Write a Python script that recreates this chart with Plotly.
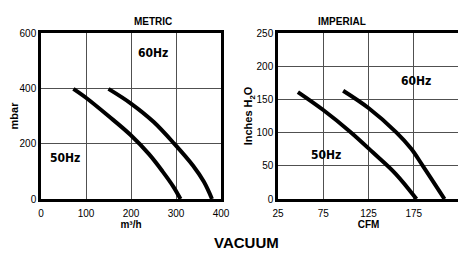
import plotly.graph_objects as go

# Metric data (m3/h vs mbar)
metric_50_x = [72, 100, 150, 198, 240, 270, 294, 310]
metric_50_y = [398, 366, 300, 233, 162, 100, 45, 0]
metric_60_x = [150, 200, 250, 296, 338, 362, 380]
metric_60_y = [398, 345, 279, 200, 120, 62, 0]

# Imperial data (CFM vs inches H2O)
imp_50_x = [47, 75, 105, 130, 155, 178]
imp_50_y = [161, 134, 101, 70, 38, 0]
imp_60_x = [97, 125, 156, 172, 185, 209]
imp_60_y = [163, 137, 100, 76, 50, 0]

metric_xticks = [0, 100, 200, 300, 400]
metric_yticks = [0, 200, 400, 600]
imp_xticks = [25, 75, 125, 175, 225]
imp_yticks = [0, 50, 100, 150, 200, 250]

LBL = "DejaVu Sans Condensed, Liberation Sans Narrow, Arial Narrow, sans-serif"
BASE = "Liberation Sans, Arial, sans-serif"

W, H = 458, 256  # page body adds an 8px margin
OX, OY = 8, 8

def px(x):
    return (x - OX) / W

def py(y):
    return 1 - (y - OY) / H

fig = go.Figure()
line = dict(color="black", width=4, shape="spline", smoothing=1.0)
fig.add_trace(go.Scatter(x=metric_50_x, y=metric_50_y, mode="lines", line=line, xaxis="x", yaxis="y"))
fig.add_trace(go.Scatter(x=metric_60_x, y=metric_60_y, mode="lines", line=line, xaxis="x", yaxis="y"))
fig.add_trace(go.Scatter(x=imp_50_x, y=imp_50_y, mode="lines", line=line, xaxis="x2", yaxis="y2"))
fig.add_trace(go.Scatter(x=imp_60_x, y=imp_60_y, mode="lines", line=line, xaxis="x2", yaxis="y2"))

ax_common = dict(showline=True, linecolor="black", linewidth=2.5, mirror=True,
                 showgrid=True, gridcolor="#505050", gridwidth=1.3, zeroline=False,
                 ticks="", tickfont=dict(family=BASE, size=10, color="black"),
                 fixedrange=True, automargin=False)

fig.update_layout(
    width=W, height=H,
    margin=dict(l=0, r=0, t=0, b=0),
    paper_bgcolor="white", plot_bgcolor="white",
    showlegend=False,
    xaxis=dict(domain=[px(41), px(221)], range=[0, 400], tickvals=metric_xticks,
               ticklabelstandoff=3,
               title=dict(text="<b>m³/h</b>", font=dict(family=BASE, size=10, color="black"), standoff=0),
               anchor="y", **ax_common),
    yaxis=dict(domain=[py(199), py(33)], range=[0, 600], tickvals=metric_yticks,
               title=dict(text="<b>mbar</b>", font=dict(family=BASE, size=11, color="black"), standoff=2),
               anchor="x", **ax_common),
    xaxis2=dict(domain=[px(278), px(459)], range=[25, 225], tickvals=imp_xticks,
                ticklabelstandoff=3,
                title=dict(text="<b>CFM</b>", font=dict(family=BASE, size=10, color="black"), standoff=0),
                anchor="y2", **ax_common),
    yaxis2=dict(domain=[py(199), py(33)], range=[0, 250], tickvals=imp_yticks,
                title=dict(text="<b>Inches H<sub>2</sub>O</b>", font=dict(family=BASE, size=11, color="black"), standoff=2),
                anchor="x2", **ax_common),
)

ann = []
ann.append(dict(text="<b>METRIC</b>", x=px(132), y=py(14), xref="paper", yref="paper",
                showarrow=False, font=dict(family=BASE, size=10, color="black")))
ann.append(dict(text="<b>IMPERIAL</b>", x=px(368), y=py(14), xref="paper", yref="paper",
                showarrow=False, font=dict(family=BASE, size=10, color="black")))
ann.append(dict(text="<b>VACUUM</b>", x=px(246), y=py(253), xref="paper", yref="paper",
                showarrow=False, font=dict(family=BASE, size=15, color="black")))
ann.append(dict(text="<b>60Hz</b>", x=248, y=528, xref="x", yref="y", showarrow=False,
                font=dict(family=LBL, size=12, color="black")))
ann.append(dict(text="<b>50Hz</b>", x=53, y=148, xref="x", yref="y", showarrow=False,
                font=dict(family=LBL, size=12, color="black")))
ann.append(dict(text="<b>60Hz</b>", x=177, y=178, xref="x2", yref="y2", showarrow=False,
                font=dict(family=LBL, size=12, color="black")))
ann.append(dict(text="<b>50Hz</b>", x=77.6, y=65.7, xref="x2", yref="y2", showarrow=False,
                font=dict(family=LBL, size=12, color="black")))
fig.update_layout(annotations=ann)

fig.write_html("out.html")
